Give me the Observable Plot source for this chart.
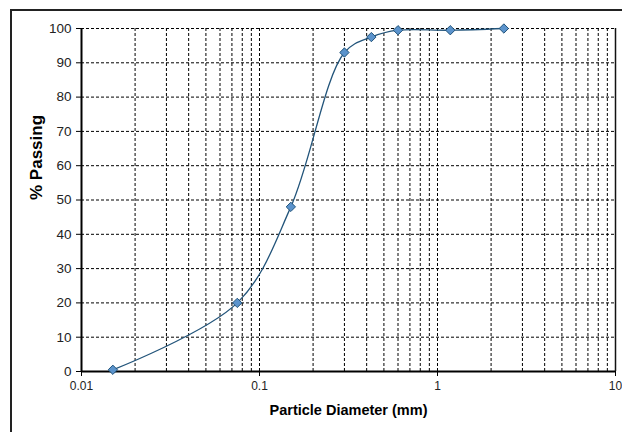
<!DOCTYPE html>
<html>
<head>
<meta charset="utf-8">
<script src="https://cdn.jsdelivr.net/npm/d3@7"></script>
<script src="https://cdn.jsdelivr.net/npm/@observablehq/plot@0.6"></script>
<style>
  html, body { margin: 0; padding: 0; background: #fff; }
  #wrap { position: relative; width: 622px; height: 432px; overflow: hidden; }
  #frame { position: absolute; left: 10px; top: 9px; width: 640px; height: 460px;
           border: 2.5px solid #222; box-sizing: border-box; pointer-events: none; }
</style>
</head>
<body>
<div id="wrap"><div id="frame"></div></div>
<script>
// Data
const sieveSizes = [0.015, 0.075, 0.15, 0.3, 0.425, 0.6, 1.18, 2.36];
const percentPassing = [0.5, 20, 48, 93, 97.5, 99.5, 99.5, 100];

const xTicks = [0.01, 0.1, 1, 10];
const xTickLabels = ["0.01", "0.1", "1", "10"];
const xGrid = [0.02, 0.03, 0.04, 0.05, 0.06, 0.07, 0.08, 0.09, 0.1,
               0.2, 0.3, 0.4, 0.5, 0.6, 0.7, 0.8, 0.9, 1,
               2, 3, 4, 5, 6, 7, 8, 9];
const yTicks = [0, 10, 20, 30, 40, 50, 60, 70, 80, 90, 100];
const yGrid = [10, 20, 30, 40, 50, 60, 70, 80, 90, 100];

const xLabel = "Particle Diameter (mm)";
const yLabel = "% Passing";

const data = sieveSizes.map((d, i) => ({size: d, pass: percentPassing[i]}));

const lineColor = "#22547a";
const markerFill = "#5b93cc";

const fmtX = d => {
  const k = xTicks.findIndex(t => Math.abs(Math.log10(t) - Math.log10(d)) < 1e-6);
  return k >= 0 ? xTickLabels[k] : "";
};

const chart = Plot.plot({
  width: 622,
  height: 432,
  marginLeft: 81,
  marginRight: 7,
  marginTop: 28,
  marginBottom: 61,
  style: {fontFamily: "Liberation Sans, Arial, sans-serif", background: "transparent", color: "#222"},
  x: {type: "log", domain: [0.01, 10]},
  y: {domain: [0, 100]},
  marks: [
    Plot.ruleX(xGrid, {stroke: "#000", strokeWidth: 1, strokeDasharray: "3,2"}),
    Plot.ruleY(yGrid, {stroke: "#000", strokeWidth: 1, strokeDasharray: "3,2"}),
    Plot.ruleX([10], {stroke: "#111", strokeWidth: 1.5}),
    Plot.ruleX([0.01], {stroke: "#000", strokeWidth: 2}),
    Plot.ruleY([0], {stroke: "#000", strokeWidth: 2}),
    Plot.axisX({ticks: xTicks, tickFormat: fmtX, tickSize: 5, tickPadding: 5,
                fontSize: 12, label: null, stroke: "#000"}),
    Plot.axisY({ticks: yTicks, tickSize: 5, tickPadding: 5, fontSize: 13.5, label: null, stroke: "#000"}),
    Plot.line(data, {x: "size", y: "pass", curve: "catmull-rom", stroke: lineColor, strokeWidth: 1.3}),
    Plot.dot(data, {x: "size", y: "pass", symbol: "diamond2", r: 4.2, fill: markerFill, stroke: lineColor, strokeWidth: 1}),
    Plot.text([xLabel], {text: d => d, frameAnchor: "bottom", dy: 43, lineAnchor: "bottom",
                         fontSize: 14.5, fontWeight: "bold", fill: "#000"}),
    Plot.text([yLabel], {text: d => d, frameAnchor: "left", dx: -45, rotate: -90,
                         fontSize: 17, fontWeight: "bold", fill: "#000"})
  ]
});

document.getElementById("wrap").insertBefore(chart, document.getElementById("frame"));
</script>
</body>
</html>
